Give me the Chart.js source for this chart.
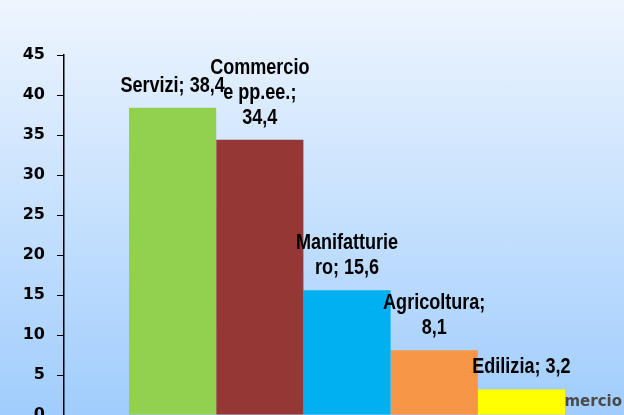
<!DOCTYPE html>
<html lang="it">
  <head>
    <meta charset="UTF-8" />
    <script src="https://cdn.jsdelivr.net/npm/chart.js@4.4.1/dist/chart.umd.min.js"></script>
    <title>Settori</title>
    <style>
      html, body {
        margin: 0;
        padding: 0;
        overflow: hidden;
      }
      body {
        width: 624px;
        height: 415px;
        background: linear-gradient(#eef5fe, #a0cdfd);
      }
      .container {
        width: 624px;
        height: 415px;
        overflow: hidden;
      }
    </style>
  </head>
  <body>
    <div class="container">
      <canvas id="chart" width="640" height="440"></canvas>
    </div>
    <script>
      const categories = ['']
      const seriesNames = ['Servizi', 'Commercio e pp.ee.', 'Manifatturiero', 'Agricoltura', 'Edilizia']
      const seriesValues = [38.4, 34.4, 15.6, 8.1, 3.2]
      const seriesColors = ['#92d050', '#953735', '#00b0f0', '#f79646', '#ffff00']
      const yTicks = [0, 5, 10, 15, 20, 25, 30, 35, 40, 45]
      const hiddenLabel = 'Commercio'

      // no narrow font installed, so squeeze Liberation Sans bold horizontally
      const labelFont = 'bold 22px "Liberation Sans", Arial, sans-serif'
      const squeeze = 0.82

      // Excel-style wrapping: words first, then break long words by characters
      const wrap = (ctx, text, maxWidth) => {
        const w = (s) => ctx.measureText(s).width * squeeze
        const lines = []
        let line = ''
        text.split(' ').forEach((word) => {
          const test = line ? line + ' ' + word : word
          if (w(test) <= maxWidth) {
            line = test
            return
          }
          if (line) lines.push(line)
          line = ''
          for (const ch of word) {
            if (w(line + ch) > maxWidth && line) {
              lines.push(line)
              line = ch
            } else {
              line += ch
            }
          }
        })
        if (line) lines.push(line)
        return lines
      }

      const barLabels = {
        id: 'barLabels',
        beforeDatasetsDraw(chart) {
          const ctx = chart.ctx
          ctx.save()
          ctx.font = 'bold 15px "DejaVu Sans", sans-serif'
          ctx.fillStyle = '#4a4a4a'
          ctx.textAlign = 'right'
          ctx.textBaseline = 'middle'
          ctx.fillText(hiddenLabel, 622, 402)
          ctx.restore()
        },
        afterDatasetsDraw(chart) {
          const ctx = chart.ctx
          ctx.save()
          ctx.font = labelFont
          ctx.fillStyle = '#000'
          ctx.textAlign = 'center'
          ctx.textBaseline = 'middle'
          chart.data.datasets.forEach((ds, i) => {
            const bar = chart.getDatasetMeta(i).data[0]
            const text = ds.label + '; ' + String(ds.data[0]).replace('.', ',')
            const lines = wrap(ctx, text, 106)
            const lh = 25
            lines.forEach((l, j) => {
              const y = bar.y - 22 - (lines.length - 1 - j) * lh
              ctx.save()
              ctx.translate(bar.x, y)
              ctx.scale(squeeze, 1)
              ctx.fillText(l, 0, 0)
              ctx.restore()
            })
          })
          ctx.restore()
        },
      }

      new Chart(document.getElementById('chart'), {
        type: 'bar',
        data: {
          labels: categories,
          datasets: seriesNames.map((name, i) => ({
            label: name,
            data: [seriesValues[i]],
            backgroundColor: seriesColors[i],
            borderWidth: 0,
            barPercentage: 1,
            categoryPercentage: 0.7703,
          })),
        },
        options: {
          responsive: false,
          animation: false,
          layout: {
            padding: { top: 55, bottom: 25, left: 0, right: 10 },
          },
          plugins: {
            legend: { display: false },
            tooltip: { enabled: false },
          },
          scales: {
            x: {
              display: false,
            },
            y: {
              min: 0,
              max: 45,
              afterFit: (scale) => {
                scale.width = 64
              },
              afterBuildTicks: (scale) => {
                scale.ticks = yTicks.map((v) => ({ value: v }))
              },
              ticks: {
                color: '#000',
                padding: 12,
                font: { family: 'DejaVu Sans', size: 16, weight: 'bold' },
              },
              grid: {
                drawOnChartArea: false,
                color: '#000',
                tickLength: 7,
                lineWidth: 1,
              },
              border: {
                display: true,
                color: '#000',
                width: 1.5,
              },
            },
          },
        },
        plugins: [barLabels],
      })
    </script>
  </body>
</html>
